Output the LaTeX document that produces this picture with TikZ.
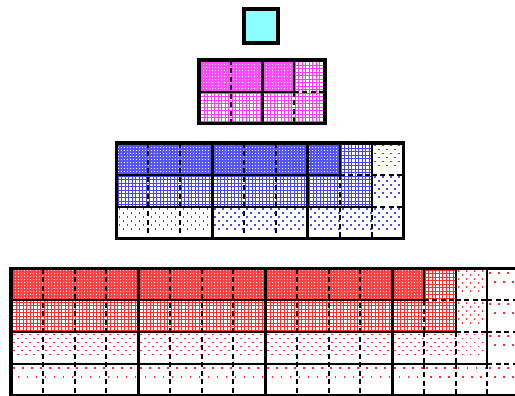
\documentclass[tikz,border=0pt]{standalone}
\makeatletter
\tikzset{
  rawstroke/.code={\pgfsysprotocol@literal{#1 RG}},
  rawfill/.code={\pgfsysprotocol@literal{#1 rg}},
}
\makeatother
\tikzset{
  frameline/.style={draw, rawstroke={0 0 0}, line width=3.2pt, line join=miter},
  blockline/.style={draw, rawstroke={0 0 0}, line width=3pt},
  rowline/.style={draw, rawstroke={0 0 0}, line width=2pt},
  dashline/.style={draw, rawstroke={0 0 0}, line width=2pt, dash pattern=on 5pt off 3.5pt},
}
% #1 kind, #2 main rgb, #3 dense rgb, #4 x1, #5 y1, #6 x2, #7 y2 (numbers)
\newcommand{\texture}[7]{%
  \pgfmathsetmacro\tw{#6-#4}\pgfmathsetmacro\th{#7-#5}%
  \ifcase#1\or
    \path[fill, rawfill={#3}] (#4,#5) rectangle (#6,#7);
    \pgfmathtruncatemacro\nhh{\th/3-1}%
    \foreach \q in {0,...,\nhh}{%
      \path[draw, rawstroke={1 1 1}, line width=1pt, dash pattern=on 1pt off 2pt]
        (#4+1,{#5+1.5+\q*3}) -- (#6-0.5,{#5+1.5+\q*3});}%
  \or
    \pgfmathtruncatemacro\nhh{\th/3.5-1}%
    \pgfmathtruncatemacro\nvv{\tw/3.5-1}%
    \foreach \q in {0,...,\nhh}{%
      \path[draw, rawstroke={#2}, line width=0.8pt] (#4,{#5+1.5+\q*3.5}) -- (#6,{#5+1.5+\q*3.5});}%
    \foreach \q in {0,...,\nvv}{%
      \path[draw, rawstroke={#2}, line width=0.8pt] ({#4+1.5+\q*3.5},#5) -- ({#4+1.5+\q*3.5},#7);}%
  \or
    \pgfmathtruncatemacro\nhh{\th/8-1}%
    \foreach \q in {0,...,\nhh}{%
      \path[draw, rawstroke={#2}, line width=1.8pt, dash pattern=on 1.8pt off 6.2pt]
        (#4+2,{#5+2.5+\q*8}) -- (#6,{#5+2.5+\q*8});
      \path[draw, rawstroke={#2}, line width=1.8pt, dash pattern=on 1.8pt off 6.2pt, dash phase=4pt]
        (#4+2,{#5+6.5+\q*8}) -- (#6,{#5+6.5+\q*8});}%
  \or
    \pgfmathtruncatemacro\nhh{\th/18-1}%
    \foreach \q in {0,...,\nhh}{%
      \path[draw, rawstroke={#2}, line width=1.9pt, dash pattern=on 1.9pt off 7.1pt]
        (#4+2,{#5+4+\q*18}) -- (#6,{#5+4+\q*18});
      \path[draw, rawstroke={#2}, line width=1.9pt, dash pattern=on 1.9pt off 7.1pt, dash phase=4.5pt]
        (#4+2,{#5+13+\q*18}) -- (#6,{#5+13+\q*18});}%
  \fi}
% #1 x0, #2 y0, #3 cell w, #4 cell h, #5 n, #6 main rgb, #7 dense rgb
\newcommand{\drawlevel}[7]{%
  \def\Xo{#1}\def\Yo{#2}\def\CW{#3}\def\CH{#4}\def\NN{#5}%
  \pgfmathtruncatemacro\Nm{\NN-1}%
  \pgfmathsetmacro\lx{\Xo+\Nm*\NN*\CW}%
  % regular blocks
  \foreach \bb in {1,...,\Nm}{%
    \pgfmathsetmacro\bx{\Xo+(\bb-1)*\NN*\CW}%
    \foreach \rr in {1,...,\NN}{%
      \pgfmathsetmacro\xa{\bx}\pgfmathsetmacro\ya{\Yo+(\rr-1)*\CH}%
      \pgfmathsetmacro\xb{\bx+\NN*\CW}\pgfmathsetmacro\yb{\Yo+\rr*\CH}%
      \texture{\rr}{#6}{#7}{\xa}{\ya}{\xb}{\yb}%
    }%
  }%
  % last block
  \foreach \ii in {1,...,\NN}{\foreach \jj in {1,...,\NN}{%
    \pgfmathtruncatemacro\kk{max(\ii,\jj)}%
    \pgfmathsetmacro\xa{\lx+(\jj-1)*\CW}\pgfmathsetmacro\ya{\Yo+(\ii-1)*\CH}%
    \pgfmathsetmacro\xb{\lx+\jj*\CW}\pgfmathsetmacro\yb{\Yo+\ii*\CH}%
    \texture{\kk}{#6}{#7}{\xa}{\ya}{\xb}{\yb}%
  }}%
  % regular block lines
  \foreach \bb in {1,...,\Nm}{%
    \pgfmathsetmacro\bx{\Xo+(\bb-1)*\NN*\CW}%
    \foreach \jj in {1,...,\Nm}{%
      \path[dashline] ({\bx+\jj*\CW},\Yo) -- ({\bx+\jj*\CW},{\Yo+\NN*\CH});}%
    \foreach \ii in {1,...,\Nm}{%
      \path[rowline] (\bx,{\Yo+\ii*\CH}) -- ({\bx+\NN*\CW},{\Yo+\ii*\CH});}%
  }%
  % last block dashed lines
  \foreach \kk in {2,...,\NN}{%
    \pgfmathtruncatemacro\km{\kk-1}%
    \foreach \ii in {1,...,\km}{%
      \path[dashline] ({\lx+(\kk-1)*\CW},{\Yo+\ii*\CH}) -- ({\lx+\kk*\CW},{\Yo+\ii*\CH});
      \path[dashline] ({\lx+\ii*\CW},{\Yo+(\kk-1)*\CH}) -- ({\lx+\ii*\CW},{\Yo+\kk*\CH});
    }%
  }%
  % last block solid L boundaries
  \foreach \kk in {1,...,\Nm}{%
    \path[rowline] ({\lx+\kk*\CW},\Yo) -- ({\lx+\kk*\CW},{\Yo+\kk*\CH}) -- (\lx,{\Yo+\kk*\CH});
  }%
  % block dividers
  \foreach \bb in {1,...,\Nm}{%
    \path[blockline] ({\Xo+\bb*\NN*\CW},\Yo) -- ({\Xo+\bb*\NN*\CW},{\Yo+\NN*\CH});
  }%
  % frame
  \path[frameline] (\Xo,\Yo) rectangle ({\Xo+\NN*\NN*\CW},{\Yo+\NN*\CH});
}
\begin{document}
\begin{tikzpicture}[x=1pt,y=-1pt]
  \useasboundingbox (0,0) rectangle (515,396);
  \path[fill, rawfill={1 1 1}] (0,0) rectangle (515,396);
  \clip (0,0) rectangle (515,396);
  % level 1
  \path[fill, rawfill={0.549 1 1}] (244,9) rectangle (278,43);
  \path[frameline] (244,9) rectangle (278,43);
  % level 2 (magenta)
  \drawlevel{199}{60}{31.5}{31.75}{2}{0.980 0.235 0.980}{0.982 0.296 0.982}
  % level 3 (blue)
  \drawlevel{116.5}{143}{31.9}{31.9}{3}{0.275 0.275 0.961}{0.333 0.333 0.964}
  % level 4 (red)
  \drawlevel{11}{268.8}{31.75}{31.6}{4}{0.961 0.196 0.196}{0.964 0.260 0.260}
\end{tikzpicture}
\end{document}
